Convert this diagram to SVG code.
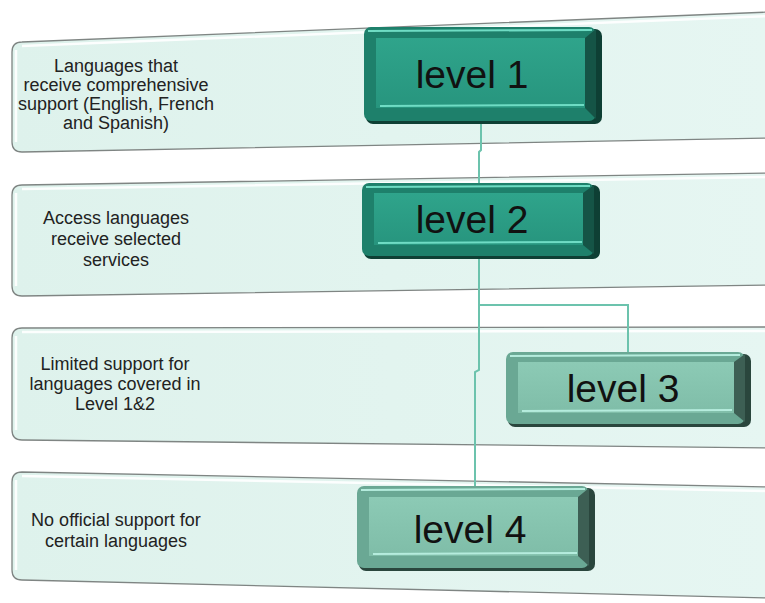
<svg xmlns="http://www.w3.org/2000/svg" width="765" height="603" viewBox="0 0 765 603">
<defs>
<linearGradient id="bandG" x1="0" y1="0" x2="1" y2="0">
<stop offset="0" stop-color="#def2ec"/><stop offset="1" stop-color="#e6f6f2"/>
</linearGradient>
<linearGradient id="darkFace" x1="0" y1="0" x2="0" y2="1">
<stop offset="0" stop-color="#2fa48b"/><stop offset="1" stop-color="#27957e"/>
</linearGradient>
<linearGradient id="lightFace" x1="0" y1="0" x2="0" y2="1">
<stop offset="0" stop-color="#8ccab5"/><stop offset="1" stop-color="#7fbda8"/>
</linearGradient>
<style>
.band{fill:url(#bandG);stroke:#7f8583;stroke-width:1.3}
.bandHi{fill:none;stroke:#ffffff;stroke-width:2.5;opacity:.9}
.lbl{font-family:"Liberation Sans",Arial,sans-serif;font-size:18px;fill:#222;text-anchor:middle}
.btn{font-family:"Liberation Sans",Arial,sans-serif;font-size:39px;fill:#111;text-anchor:middle}
.conn{fill:none;stroke:#6cc3ad;stroke-width:2}
.d .rim{fill:#1e806b}
.d .shade{fill:#0e3f34}
.d .face{fill:url(#darkFace)}
.d .hi{stroke:#6fdcc4}
.l .rim{fill:#6aa894}
.l .shade{fill:#2a463d}
.l .face{fill:url(#lightFace)}
.l .hi{stroke:#b5ecdd}
.hi{stroke-width:2;fill:none}
</style>
</defs>
<rect width="765" height="603" fill="#ffffff"/>

<g id="band1">
<path class="band" d="M22,42 L770,12 L770,138 L22,152 Q12,152 12,142 L12,52 Q12,42 22,42 Z"/>
<path class="bandHi" d="M16,50 L16,142 M22,46 L770,16"/>
<text class="lbl"><tspan x="116" y="72">Languages that</tspan><tspan x="116" y="91">receive comprehensive</tspan><tspan x="116" y="110">support (English, French</tspan><tspan x="116" y="129">and Spanish)</tspan></text>
</g>
<g id="band2">
<path class="band" d="M22,185 L770,173 L770,285 L22,296 Q12,296 12,286 L12,195 Q12,185 22,185 Z"/>
<path class="bandHi" d="M16,193 L16,286 M22,189 L770,177"/>
<text class="lbl"><tspan x="116" y="224">Access languages</tspan><tspan x="116" y="245">receive selected</tspan><tspan x="116" y="266">services</tspan></text>
</g>
<g id="band3">
<path class="band" d="M22,328 L770,327 L770,448 L22,440 Q12,440 12,430 L12,338 Q12,328 22,328 Z"/>
<path class="bandHi" d="M16,336 L16,430 M22,332 L770,331"/>
<text class="lbl"><tspan x="115" y="370">Limited support for</tspan><tspan x="115" y="390">languages covered in</tspan><tspan x="115" y="410">Level 1&amp;2</tspan></text>
</g>
<g id="band4">
<path class="band" d="M22,472 L770,487 L770,598 L22,580 Q12,580 12,570 L12,482 Q12,472 22,472 Z"/>
<path class="bandHi" d="M16,480 L16,570 M22,476 L770,491"/>
<text class="lbl"><tspan x="116" y="526">No official support for</tspan><tspan x="116" y="547">certain languages</tspan></text>
</g>

<g id="connectors">
<path class="conn" d="M481,123 L481,150 L479,152 L479,183"/>
<path class="conn" d="M479,257 L479,305 L628,305 L628,352"/>
<path class="conn" d="M479,305 L479,370 L475,372 L475,486"/>
</g>

<g id="level1" class="d">
<rect class="shade" x="366" y="29" width="236" height="95" rx="7"/>
<rect class="rim" x="364" y="27" width="232" height="94" rx="7"/>
<rect class="face" x="376" y="38" width="209" height="70"/>
<path class="hi" d="M368,31 L592,30 M380,106 L584,105"/>
<path d="M585,38 L596,29 L596,119 L585,108 Z" fill="#155446"/>
<text class="btn" x="472" y="88">level 1</text>
</g>
<g id="level2" class="d">
<rect class="shade" x="364" y="185" width="236" height="74" rx="7"/>
<rect class="rim" x="362" y="183" width="232" height="73" rx="7"/>
<rect class="face" x="374" y="193" width="209" height="52"/>
<path class="hi" d="M366,187 L590,186 M378,243 L582,242"/>
<path d="M583,193 L594,185 L594,254 L583,245 Z" fill="#155446"/>
<text class="btn" x="472" y="233">level 2</text>
</g>
<g id="level3" class="l">
<rect class="shade" x="508" y="354" width="243" height="73" rx="7"/>
<rect class="rim" x="506" y="352" width="239" height="72" rx="7"/>
<rect class="face" x="518" y="362" width="216" height="51"/>
<path class="hi" d="M510,356 L740,355 M522,411 L732,410"/>
<path d="M734,362 L745,354 L745,422 L734,413 Z" fill="#3d5f54"/>
<text class="btn" x="623" y="402">level 3</text>
</g>
<g id="level4" class="l">
<rect class="shade" x="359" y="488" width="236" height="83" rx="7"/>
<rect class="rim" x="357" y="486" width="232" height="82" rx="7"/>
<rect class="face" x="369" y="497" width="209" height="59"/>
<path class="hi" d="M361,490 L585,489 M373,554 L577,553"/>
<path d="M578,497 L589,488 L589,566 L578,556 Z" fill="#3d5f54"/>
<text class="btn" x="470" y="543">level 4</text>
</g>
</svg>
